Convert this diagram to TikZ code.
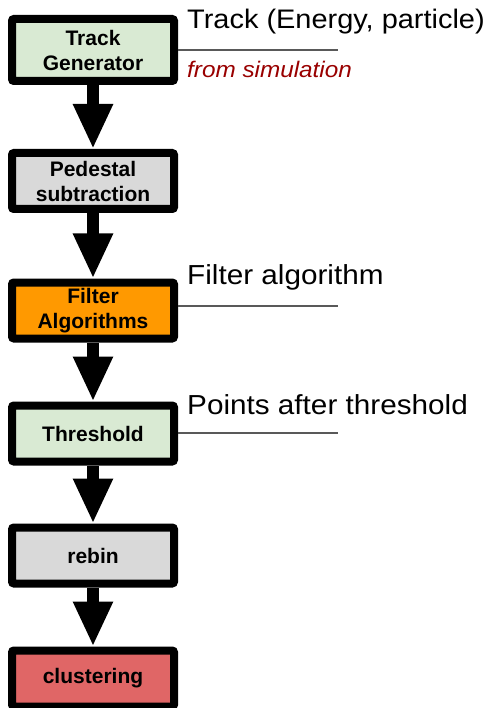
\documentclass[tikz,border=0pt]{standalone}
\usepackage{fontspec}
\setmainfont{Liberation Sans}
\newfontfamily\notefont[FakeStretch=1.08]{Liberation Sans}
\usetikzlibrary{arrows.meta}
\definecolor{lightgreen}{HTML}{D9EAD3}
\definecolor{lightgray}{HTML}{D9D9D9}
\definecolor{boxorange}{HTML}{FF9900}
\definecolor{boxred}{HTML}{E06666}
\definecolor{darkred}{HTML}{990000}
\definecolor{leader}{HTML}{595959}
\tikzset{
  stage/.style={draw=black, line width=8pt, rounded corners=2pt,
    minimum width=162pt, minimum height=56pt, inner sep=0pt, align=center,
    font=\fontsize{21}{25}\selectfont\bfseries},
  flow/.style={line width=12pt, -{Triangle[width=37pt,length=45pt]}},
  note/.style={anchor=west, inner sep=0pt, font=\notefont\fontsize{27.5}{30}\selectfont},
  leaderline/.style={draw=leader, line width=1.4pt}
}
\begin{document}
\begin{tikzpicture}[x=1pt, y=-1pt]
  \useasboundingbox (0,0) rectangle (485,708);
  \clip (0,0) rectangle (485,708);

  % processing chain
  \node[stage, fill=lightgreen, minimum height=62pt] (gen) at (93,50) {Track\\Generator};
  \node[stage, fill=lightgray] (ped) at (93,181) {Pedestal\\subtraction};
  \node[stage, fill=boxorange] (filt) at (93,310.5) {Filter\\Algorithms};
  \node[stage, fill=lightgreen] (thr) at (93,433.5) {Threshold};
  \node[stage, fill=lightgray] (reb) at (93,555.5) {rebin};
  \node[stage, fill=boxred] (clu) at (93,678.5) {clustering};

  \draw[flow] (gen.south) -- (ped.north);
  \draw[flow] (ped.south) -- (filt.north);
  \draw[flow] (filt.south) -- (thr.north);
  \draw[flow] (thr.south) -- (reb.north);
  \draw[flow] (reb.south) -- (clu.north);

  % annotations on the right
  \node[note, font=\notefont\fontsize{26.8}{30}\selectfont] (n1) at (187,22) {Track (Energy, particle)};
  \node[note, font=\notefont\fontsize{22.5}{26}\selectfont\itshape, text=darkred] (n1b) at (187,69) {from simulation};
  \coordinate (e1) at (338,50);
  \draw[leaderline] (gen.east |- e1) -- (e1);

  \node[note] (n2) at (187,277) {Filter algorithm};
  \coordinate (e2) at (338,306);
  \draw[leaderline] (filt.east |- e2) -- (e2);

  \node[note] (n3) at (187,405) {Points after threshold};
  \coordinate (e3) at (338,433);
  \draw[leaderline] (thr.east |- e3) -- (e3);
\end{tikzpicture}
\end{document}
